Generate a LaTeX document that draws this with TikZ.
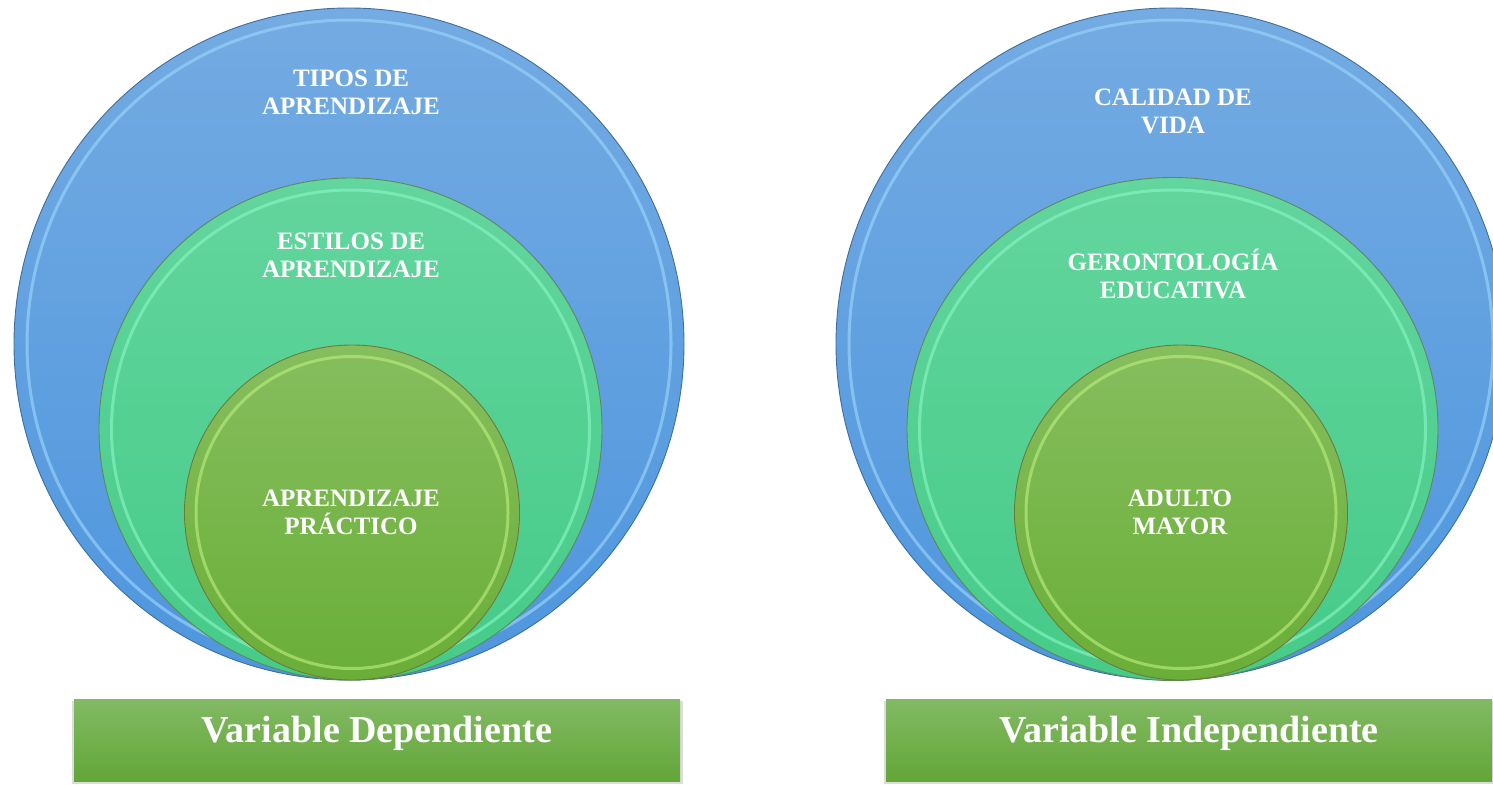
\documentclass[tikz,border=0pt]{standalone}
\usepackage{fontspec}
\setmainfont{Liberation Serif}
\usetikzlibrary{shapes.geometric}
\definecolor{bluetop}{HTML}{74ABE2}
\definecolor{bluebot}{HTML}{4E96DE}
\definecolor{blueedge}{HTML}{3F6E9E}
\definecolor{bluerim}{HTML}{9AD4FA}
\definecolor{greentop}{HTML}{63D59E}
\definecolor{greenbot}{HTML}{45CB88}
\definecolor{greenedge}{HTML}{5E8A5A}
\definecolor{greenrim}{HTML}{86F5C2}
\definecolor{limetop}{HTML}{86BE5E}
\definecolor{limebot}{HTML}{6AAE38}
\definecolor{limeedge}{HTML}{6E7A3C}
\definecolor{limerim}{HTML}{B8EC7C}
\definecolor{boxtop}{HTML}{82BA64}
\definecolor{boxbot}{HTML}{63A637}
\begin{document}
\begin{tikzpicture}[x=1pt,y=-1pt,
  disc/.style={ellipse, inner sep=0pt, line width=0.9pt},
  bluedisc/.style={disc, draw=blueedge, top color=bluetop, bottom color=bluebot},
  greendisc/.style={disc, draw=greenedge, top color=greentop, bottom color=greenbot},
  limedisc/.style={disc, draw=limeedge, top color=limetop, bottom color=limebot},
  rim/.style={line width=3pt, opacity=0.65},
  lbl/.style={text=white, align=center, inner sep=0pt,
    font=\bfseries\fontsize{25}{28}\selectfont},
  varbox/.style={rectangle, inner sep=0pt, top color=boxtop, bottom color=boxbot,
    minimum height=82pt},
  vlbl/.style={text=white, inner sep=0pt, font=\bfseries\fontsize{38}{42}\selectfont},
  shadowbox/.style={fill=black!30, opacity=0.45}
]
\useasboundingbox (0,0) rectangle (1493,784);
\clip (0,0) rectangle (1493,784);

% ---------- left set ----------
\node[bluedisc, minimum width=670pt, minimum height=672pt] (lb) at (349,344) {};
\draw[rim, bluerim] (lb.center) ellipse (322pt and 324pt);
\node[greendisc, minimum width=503pt, minimum height=502pt] (lg) at (350.5,429) {};
\draw[rim, greenrim] (lg.center) ellipse (239pt and 239pt);
\node[limedisc, minimum width=335pt, minimum height=335pt] (ll) at (352,512.5) {};
\draw[rim, limerim] (ll.center) ellipse (156pt and 156pt);

\node[lbl] (t1) at (351,92) {TIPOS DE\\APRENDIZAJE};
\node[lbl] (t2) at (351,255) {ESTILOS DE\\APRENDIZAJE};
\node[lbl] (t3) at (351,512) {APRENDIZAJE\\PRÁCTICO};

% ---------- right set ----------
\node[bluedisc, minimum width=670pt, minimum height=672pt] (rb) at (1171,344) {};
\draw[rim, bluerim] (rb.center) ellipse (322pt and 324pt);
\node[greendisc, minimum width=531pt, minimum height=503pt] (rg) at (1172.5,429) {};
\draw[rim, greenrim] (rg.center) ellipse (253pt and 239pt);
\node[limedisc, minimum width=333pt, minimum height=335pt] (rl) at (1181,512.5) {};
\draw[rim, limerim] (rl.center) ellipse (155pt and 156pt);

\node[lbl] (u1) at (1173,111) {CALIDAD DE\\VIDA};
\node[lbl] (u2) at (1173,274) {GERONTOLOGÍA\\EDUCATIVA};
\node[lbl] (u3) at (1180,512) {ADULTO\\MAYOR};

% ---------- bottom boxes ----------
\fill[shadowbox] (72,701) rectangle (683,784);
\node[varbox, minimum width=606pt, anchor=north west] (vb1) at (74,699) {};
\node[vlbl] (v1) at (377,733) {Variable Dependiente};

\fill[shadowbox] (884,701) rectangle (1496,784);
\node[varbox, minimum width=606pt, anchor=north west] (vb2) at (886,699) {};
\node[vlbl] (v2) at (1189,733) {Variable Independiente};
\end{tikzpicture}
\end{document}
